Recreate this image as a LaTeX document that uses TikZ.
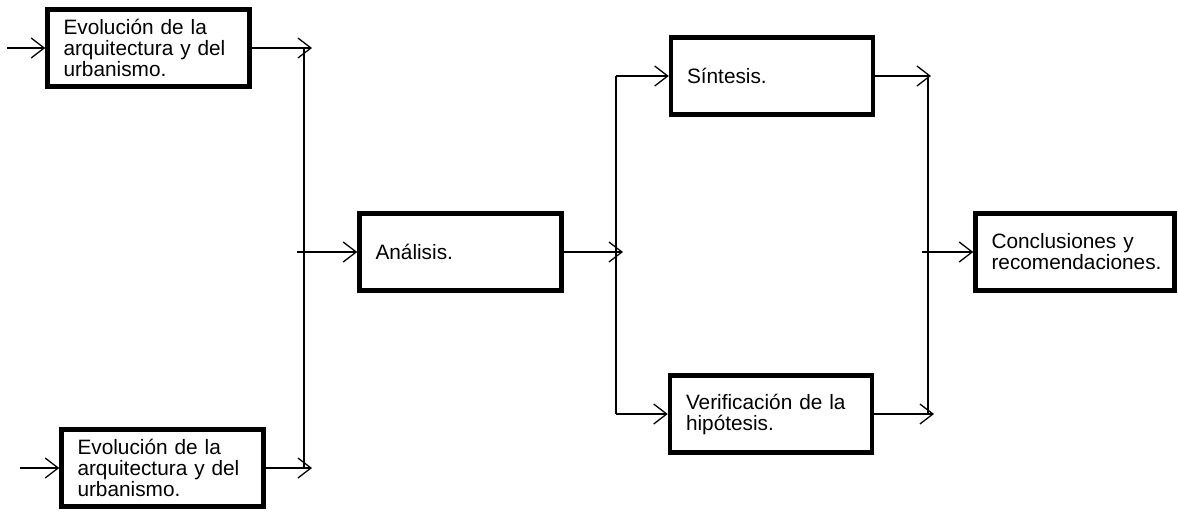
\documentclass[tikz,border=0pt]{standalone}
\usepackage{fontspec}
\setmainfont{Liberation Sans}
\usepackage{tikz}
\usetikzlibrary{arrows.meta}

\tikzset{
  stage/.style={draw, line width=4.5pt, rectangle, minimum height=77pt,
    text width=170pt, inner xsep=16pt, align=left,
    font=\fontsize{20.8}{21}\selectfont},
  flow/.style={line width=1.3pt, -{Straight Barb[length=13pt,width=20pt,line width=1.3pt]}},
  bus/.style={line width=1.3pt}
}

\begin{document}
\begin{tikzpicture}[x=1pt, y=-1pt]
  \useasboundingbox (0,0) rectangle (1178,512);

  \node[stage] (evoA) at (148.5,48) {Evolución de la\\arquitectura y del\\urbanismo.};
  \node[stage] (evoB) at (162.5,468) {Evolución de la\\arquitectura y del\\urbanismo.};
  \node[stage] (analisis) at (460.5,252) {Análisis.};
  \node[stage] (sintesis) at (772,76) {Síntesis.};
  \node[stage] (verif) at (771,414) {Verificación de la\\hipótesis.};
  \node[stage, text width=167pt] (concl) at (1075,252) {Conclusiones y\\recomendaciones.};

  \coordinate (inA) at (7,48);
  \coordinate (inB) at (20,468);
  \coordinate (outA) at (312,48);
  \coordinate (outB) at (312,468);
  \coordinate (busLtop) at (304,48);
  \coordinate (busLbot) at (304,468);
  \coordinate (toAn) at (297,252);
  \coordinate (outAn) at (623,252);
  \coordinate (busMtop) at (616,76);
  \coordinate (busMbot) at (616,414);
  \coordinate (outSin) at (931,76);
  \coordinate (outVer) at (934,414);
  \coordinate (busRtop) at (928,76);
  \coordinate (busRbot) at (928,414);
  \coordinate (toCon) at (922,252);

  \draw[bus] (busLtop) -- (busLbot);
  \draw[bus] (busMtop) -- (busMbot);
  \draw[bus] (busRtop) -- (busRbot);

  \path[flow]
  (inA) edge (evoA)
  (inB) edge (evoB)
  (evoA) edge (outA)
  (evoB) edge (outB)
  (toAn) edge (analisis)
  (analisis) edge (outAn)
  (busMtop) edge (sintesis)
  (busMbot) edge (verif)
  (sintesis) edge (outSin)
  (verif) edge (outVer)
  (toCon) edge (concl)
  ;
\end{tikzpicture}
\end{document}
